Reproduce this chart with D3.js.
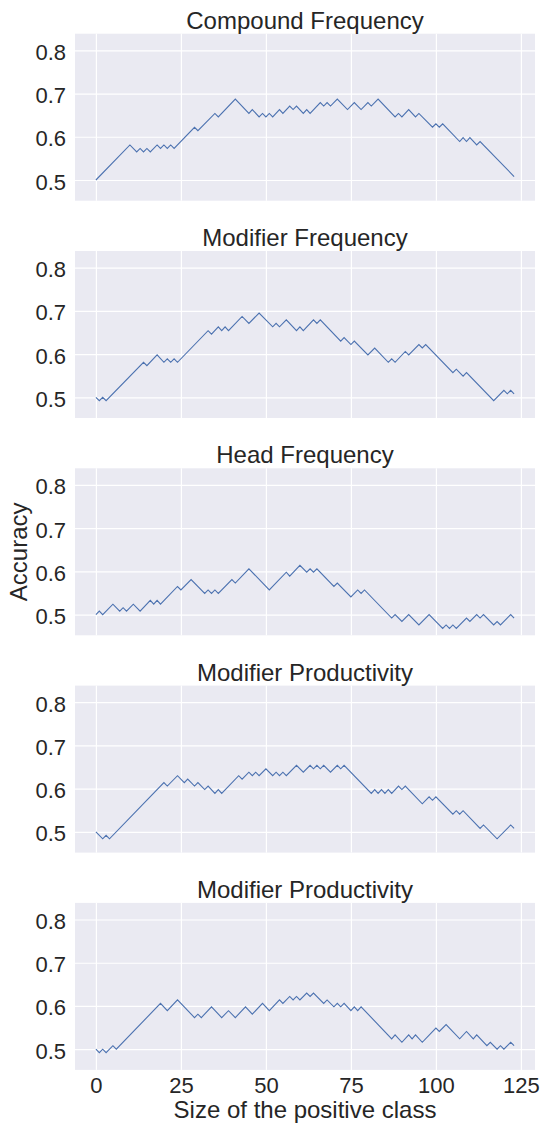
<!DOCTYPE html>
<html>
<head>
<meta charset="utf-8">
<script src="https://cdn.jsdelivr.net/npm/d3@7"></script>
<style>
  body { margin: 0; background: #fff; }
  svg { display: block; }
</style>
</head>
<body>
<svg></svg>
<script>
// panel titles
const titles = ['Compound Frequency', 'Modifier Frequency', 'Head Frequency',
	'Modifier Productivity', 'Modifier Productivity'];

const xTicks = [0, 25, 50, 75, 100, 125];
const yTicks = [0.5, 0.6, 0.7, 0.8];

// turning points of each accuracy curve
const compoundFreqX = [0, 10, 12, 13, 14, 15, 16, 18, 19, 20, 21, 22, 23, 29, 30, 35, 36, 41, 45, 46,
	48, 49, 50, 51, 52, 54, 55, 57, 58, 59, 61, 62, 63, 66, 67, 68, 69, 71, 74, 76,
	78, 80, 81, 83, 88, 89, 90, 92, 94, 95, 99, 100, 101, 102, 107, 108, 109, 110, 112, 113, 123];
const compoundFreqAcc = [.500, .581, .565, .573, .565, .573, .565, .581, .573, .581, .573, .581, .573, .622, .614, .654, .646, .687, .654, .663,
	.646, .654, .646, .654, .646, .663, .654, .671, .663, .671, .654, .663, .654, .679, .671, .679, .671, .687, .663, .679,
	.663, .679, .671, .687, .646, .654, .646, .663, .646, .654, .622, .630, .622, .630, .589, .598, .589, .598, .581, .589, .508];

const modifierFreqX = [0, 1, 2, 3, 14, 15, 18, 20, 21, 22, 23, 24, 33, 34, 36, 37, 38, 39, 43, 45,
	48, 52, 53, 54, 56, 59, 60, 61, 64, 65, 66, 72, 73, 75, 76, 80, 82, 86, 87, 88,
	91, 92, 95, 96, 97, 105, 106, 108, 109, 117, 120, 121, 122, 123];
const modifierFreqAcc = [.500, .492, .500, .492, .581, .573, .598, .581, .589, .581, .589, .581, .654, .646, .663, .654, .663, .654, .687, .671,
	.695, .663, .671, .663, .679, .654, .663, .654, .679, .671, .679, .630, .638, .622, .630, .598, .614, .581, .589, .581,
	.606, .598, .622, .614, .622, .557, .565, .549, .557, .492, .516, .508, .516, .508];

const headFreqX = [0, 1, 2, 5, 7, 8, 9, 11, 13, 16, 17, 18, 19, 24, 25, 28, 32, 33, 34, 35,
	36, 40, 41, 45, 51, 56, 57, 60, 62, 63, 64, 65, 70, 71, 75, 77, 78, 79, 87, 88,
	90, 92, 95, 98, 102, 103, 104, 105, 106, 109, 110, 112, 113, 114, 117, 118, 119, 122, 123];
const headFreqAcc = [.500, .508, .500, .524, .508, .516, .508, .524, .508, .533, .524, .533, .524, .565, .557, .581, .549, .557, .549, .557,
	.549, .581, .573, .606, .557, .598, .589, .614, .598, .606, .598, .606, .565, .573, .541, .557, .549, .557, .492, .500,
	.484, .500, .476, .500, .468, .476, .468, .476, .468, .492, .484, .500, .492, .500, .476, .484, .476, .500, .492];

const modifierProdX = [0, 2, 3, 4, 20, 21, 24, 26, 27, 29, 30, 32, 33, 35, 36, 37, 42, 43, 45, 46,
	47, 48, 50, 52, 53, 54, 55, 56, 59, 61, 63, 64, 65, 66, 67, 69, 71, 72, 73, 81,
	82, 83, 84, 85, 86, 87, 89, 90, 91, 96, 98, 99, 100, 105, 106, 107, 108, 113, 114, 118, 122, 123];
const modifierProdAcc = [.500, .484, .492, .484, .614, .606, .630, .614, .622, .606, .614, .598, .606, .589, .598, .589, .630, .622, .638, .630,
	.638, .630, .646, .630, .638, .630, .638, .630, .654, .638, .654, .646, .654, .646, .654, .638, .654, .646, .654, .589,
	.598, .589, .598, .589, .598, .589, .606, .598, .606, .565, .581, .573, .581, .541, .549, .541, .549, .508, .516, .484, .516, .508];

const modifierProd2X = [0, 1, 2, 3, 5, 6, 19, 21, 24, 29, 30, 31, 34, 37, 39, 41, 44, 46, 49, 51,
	54, 55, 57, 58, 59, 60, 62, 63, 64, 67, 68, 70, 71, 72, 73, 75, 76, 77, 78, 87,
	88, 90, 92, 93, 94, 96, 100, 101, 103, 107, 109, 111, 112, 115, 116, 118, 119, 120, 122, 123];
const modifierProd2Acc = [.500, .492, .500, .492, .508, .500, .606, .589, .614, .573, .581, .573, .598, .573, .589, .573, .598, .581, .606, .589,
	.614, .606, .622, .614, .622, .614, .630, .622, .630, .606, .614, .598, .606, .598, .606, .589, .598, .589, .598, .524,
	.533, .516, .533, .524, .533, .516, .549, .541, .557, .524, .541, .524, .533, .508, .516, .500, .508, .500, .516, .508];

const seriesX = [compoundFreqX, modifierFreqX, headFreqX, modifierProdX, modifierProd2X];
const seriesAcc = [compoundFreqAcc, modifierFreqAcc, headFreqAcc, modifierProdAcc, modifierProd2Acc];

const font = '"Liberation Sans", Arial, sans-serif',
	textColor = '#262626';

const svg = d3.select('svg')
	.attr('width', 543)
	.attr('height', 1126)
	.attr('font-family', font);

const margin = { left: 75, top: 33.7 },
	innerWidth = 460,
	innerHeight = 167,
	step = 217.3;

const xScale = d3.scaleLinear()
	.domain([-6.15, 129.15])
	.range([0, innerWidth]);

const yScale = d3.scaleLinear()
	.domain([0.4521, 0.8384])
	.range([innerHeight, 0]);

const line = d3.line()
	.x(d => xScale(d[0]))
	.y(d => yScale(d[1]));

const styleAxis = sel => {
	sel.attr('font-size', 22).attr('font-family', font);
	sel.select('.domain').remove();
	sel.selectAll('.tick line').attr('stroke', '#fff').attr('stroke-width', 1.2);
	sel.selectAll('.tick text').attr('fill', textColor);
};

titles.forEach((title, i) => {
	const last = i === titles.length - 1;
	const g = svg.append('g')
		.attr('transform', `translate(${margin.left}, ${margin.top + i * step})`);

	g.append('rect')
		.attr('width', innerWidth)
		.attr('height', innerHeight)
		.attr('fill', '#eaeaf2');

	const xAxisG = g.append('g')
		.attr('transform', `translate(0, ${innerHeight})`)
		.call(d3.axisBottom(xScale)
			.tickValues(xTicks)
			.tickSize(-innerHeight)
			.tickPadding(7.5)
			.tickFormat(d3.format('d')))
		.call(styleAxis);
	// shared x axis: only the bottom panel keeps its labels
	if (!last) xAxisG.selectAll('text').remove();

	const yAxisG = g.append('g')
		.call(d3.axisLeft(yScale)
			.tickValues(yTicks)
			.tickSize(-innerWidth)
			.tickPadding(9)
			.tickFormat(d3.format('.1f')))
		.call(styleAxis);
	yAxisG.selectAll('text').attr('dy', '0.41em');

	const pts = seriesX[i].map((x, j) => [x, seriesAcc[i][j]]);
	g.append('path')
		.attr('d', line(pts))
		.attr('fill', 'none')
		.attr('stroke', '#4c72b0')
		.attr('stroke-width', 1.1);

	g.append('text')
		.attr('x', innerWidth / 2)
		.attr('y', -5)
		.attr('text-anchor', 'middle')
		.attr('fill', textColor)
		.attr('font-size', 24)
		.text(title);
});

svg.append('text')
	.attr('transform', `translate(27, ${margin.top + 2 * step + innerHeight / 2}) rotate(-90)`)
	.attr('text-anchor', 'middle')
	.attr('fill', textColor)
	.attr('font-size', 24)
	.text('Accuracy');

svg.append('text')
	.attr('x', margin.left + innerWidth / 2)
	.attr('y', 1118)
	.attr('text-anchor', 'middle')
	.attr('fill', textColor)
	.attr('font-size', 24)
	.text('Size of the positive class');
</script>
</body>
</html>
